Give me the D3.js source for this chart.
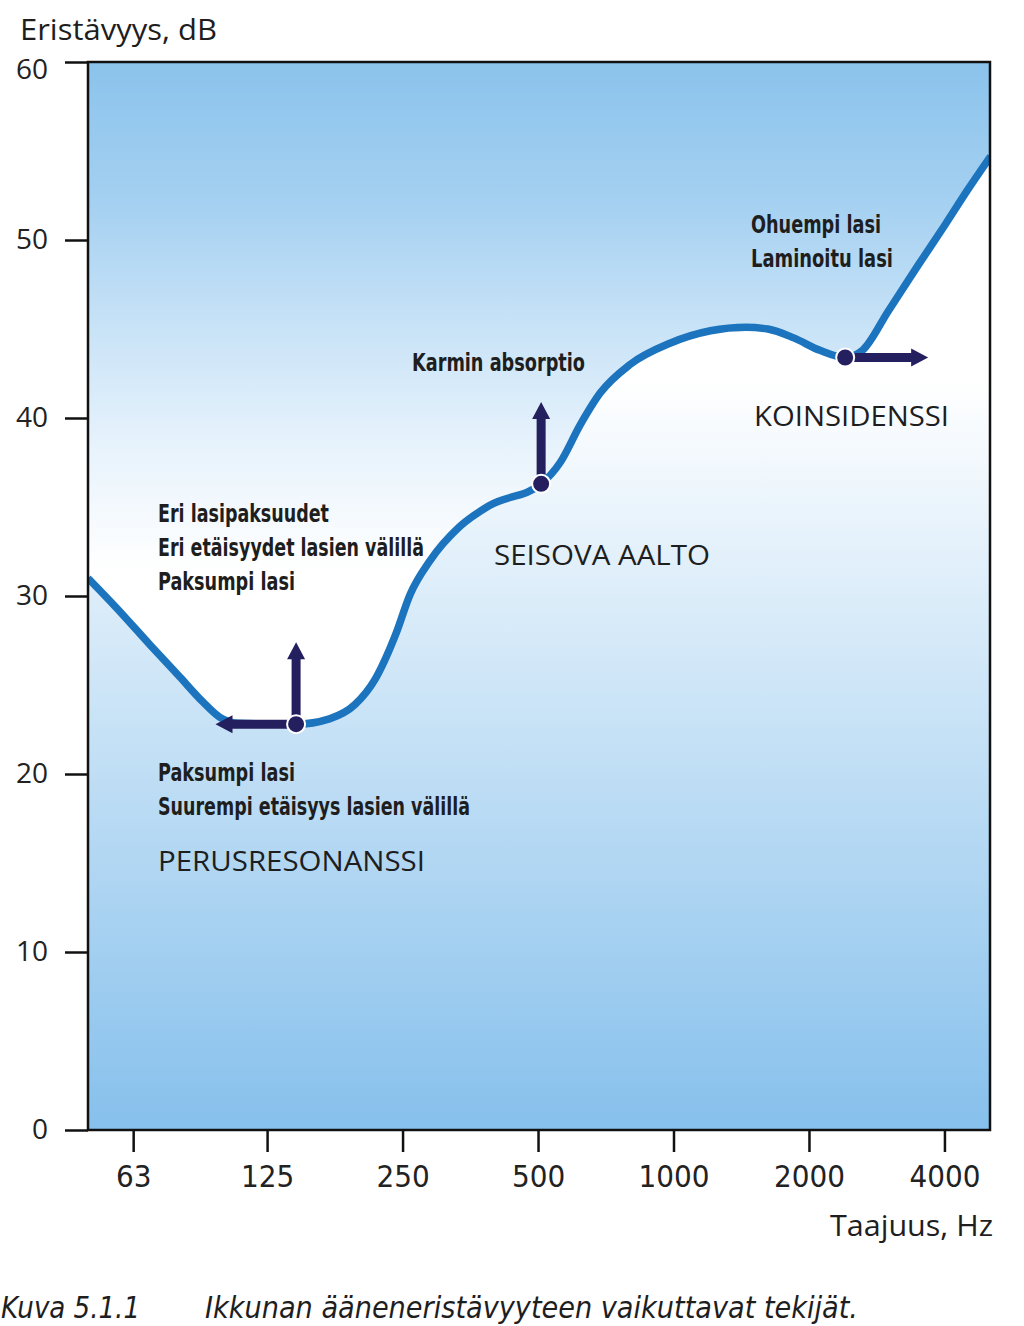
<!DOCTYPE html>
<html><head><meta charset="utf-8">
<script src="https://cdn.jsdelivr.net/npm/d3@7"></script>
<style>
html,body{margin:0;padding:0;background:#fff;}
svg{display:block;}
</style></head>
<body>
<svg id="chart" width="1024" height="1326"></svg>
<script>
// ---- data ----
const frequencies = [50, 58, 68.7, 80, 90, 98, 108, 145, 172, 196, 217, 241, 260, 288, 335, 391, 508, 560, 620, 687, 800, 982, 1208, 1450, 1620, 1850, 2116, 2407, 2629, 3000, 3500, 4000, 4500, 5065];
const insulationDb = [31.0, 29.3, 27.25, 25.45, 24.05, 23.2, 22.85, 22.8, 23.1, 23.9, 25.3, 27.8, 30.1, 32.0, 33.9, 35.1, 36.3, 37.5, 39.6, 41.4, 43.0, 44.2, 44.9, 45.1, 45.0, 44.5, 43.8, 43.4, 43.8, 46.0, 48.6, 50.8, 52.8, 54.7];
const xTickValues = [63, 125, 250, 500, 1000, 2000, 4000];
const yTickValues = [0, 10, 20, 30, 40, 50, 60];
const markerFreq = [145, 508, 2407];
const markerDb = [22.8, 36.3, 43.4];
// arrows: marker index, direction, target value (freq for horizontal, dB for vertical)
const arrowMarker = [0, 0, 1, 2];
const arrowDir = ["left", "up", "up", "right"];
const arrowTarget = [96, 27.4, 40.9, 3680];

// ---- layout ----
const plot = {l: 88, r: 990, t: 62, b: 1130};
const svg = d3.select("#chart");
const x = d3.scaleLog().domain([50, 5050]).range([plot.l, plot.r]);
const y = d3.scaleLinear().domain([0, 60]).range([plot.b, plot.t]);

const pts = frequencies.map((f, i) => ({f, db: insulationDb[i]}));

const defs = svg.append("defs");
function grad(id, stops) {
  const lg = defs.append("linearGradient").attr("id", id)
    .attr("gradientUnits", "userSpaceOnUse").attr("x1", 0).attr("x2", 0).attr("y1", 0).attr("y2", 1326);
  stops.forEach(s => lg.append("stop").attr("offset", s[0] / 1326).attr("stop-color", s[1]));
}
grad("gTop", [[62, "#8bc3ec"], [200, "#a4d0f1"], [330, "#c9e3f7"], [450, "#e8f3fc"], [570, "#ffffff"]]);
grad("gBot", [[380, "#ffffff"], [1130, "#86c0ec"]]);
defs.append("clipPath").attr("id", "clip").append("rect")
  .attr("x", plot.l).attr("y", plot.t).attr("width", plot.r - plot.l).attr("height", plot.b - plot.t);

const curve = d3.curveMonotoneX;
const g = svg.append("g").attr("clip-path", "url(#clip)");
g.append("path").datum(pts)
  .attr("d", d3.area().x(d => x(d.f)).y0(plot.t).y1(d => y(d.db)).curve(curve))
  .attr("fill", "url(#gTop)");
g.append("path").datum(pts)
  .attr("d", d3.area().x(d => x(d.f)).y0(plot.b).y1(d => y(d.db)).curve(curve))
  .attr("fill", "url(#gBot)");
g.append("path").datum(pts)
  .attr("d", d3.line().x(d => x(d.f)).y(d => y(d.db)).curve(curve))
  .attr("fill", "none").attr("stroke", "#1b74bd").attr("stroke-width", 7.5).attr("stroke-linejoin", "round");

// arrows
const navy = "#241f5f";
const sw = 4.5, hw = 9, hl = 17;
arrowDir.forEach((dir, i) => {
  const m = arrowMarker[i];
  const cx = x(markerFreq[m]), cy = y(markerDb[m]);
  let p;
  if (dir === "left") {
    const tx = x(arrowTarget[i]);
    p = [[cx, cy - sw], [tx + hl, cy - sw], [tx + hl, cy - hw], [tx, cy], [tx + hl, cy + hw], [tx + hl, cy + sw], [cx, cy + sw]];
  } else if (dir === "right") {
    const tx = x(arrowTarget[i]);
    p = [[cx, cy - sw], [tx - hl, cy - sw], [tx - hl, cy - hw], [tx, cy], [tx - hl, cy + hw], [tx - hl, cy + sw], [cx, cy + sw]];
  } else {
    const ty = y(arrowTarget[i]);
    p = [[cx - sw, cy], [cx - sw, ty + hl], [cx - hw, ty + hl], [cx, ty], [cx + hw, ty + hl], [cx + sw, ty + hl], [cx + sw, cy]];
  }
  svg.append("path").attr("d", "M" + p.map(q => q.join(",")).join("L") + "Z").attr("fill", navy);
});
markerFreq.forEach((f, i) => {
  svg.append("circle").attr("cx", x(f)).attr("cy", y(markerDb[i])).attr("r", 9)
    .attr("fill", navy).attr("stroke", "#fff").attr("stroke-width", 2);
});

// frame
svg.append("rect").attr("x", plot.l).attr("y", plot.t).attr("width", plot.r - plot.l).attr("height", plot.b - plot.t)
  .attr("fill", "none").attr("stroke", "#111").attr("stroke-width", 2.5);

// axes
const fontNum = "'Open Sans', 'Noto Sans', sans-serif";
const yAxis = svg.append("g").attr("transform", `translate(${plot.l},0)`)
  .call(d3.axisLeft(y).tickValues(yTickValues).tickSize(23).tickPadding(17).tickFormat(d3.format("d")));
yAxis.select(".domain").remove();
yAxis.selectAll("line").attr("stroke", "#111").attr("stroke-width", 2.5);
yAxis.selectAll("text").attr("font-family", fontNum).attr("font-size", 28).attr("fill", "#222")
  .attr("dy", d => d === 60 ? "0.6em" : "0.32em");

const xAxis = svg.append("g").attr("transform", `translate(0,${plot.b})`)
  .call(d3.axisBottom(x).tickValues(xTickValues).tickSize(22).tickPadding(13).tickFormat(d3.format("d")));
xAxis.select(".domain").remove();
xAxis.selectAll("line").attr("stroke", "#111").attr("stroke-width", 2.5);
xAxis.selectAll("text").attr("font-family", "'Liberation Sans Narrow', 'DejaVu Sans Condensed', sans-serif")
  .attr("font-size", 31).attr("fill", "#222");

// texts (layout)
const boldF = "'Liberation Sans Narrow', 'DejaVu Sans Condensed', sans-serif";
const regF = "'Open Sans', 'Noto Sans', sans-serif";
const texts = [
  {t: "Eristävyys, dB", x: 20, y: 40, w: 197, s: 30, f: regF, wt: 400},
  {t: "Taajuus, Hz", x: 830, y: 1236, w: 163, s: 30, f: regF, wt: 400},
  {t: "Eri lasipaksuudet", x: 158, y: 522, w: 171, s: 25, f: boldF, wt: 700},
  {t: "Eri etäisyydet lasien välillä", x: 158, y: 556, w: 266, s: 25, f: boldF, wt: 700},
  {t: "Paksumpi lasi", x: 158, y: 590, w: 137, s: 25, f: boldF, wt: 700},
  {t: "Paksumpi lasi", x: 158, y: 781, w: 137, s: 25, f: boldF, wt: 700},
  {t: "Suurempi etäisyys lasien välillä", x: 158, y: 815, w: 312, s: 25, f: boldF, wt: 700},
  {t: "PERUSRESONANSSI", x: 158, y: 871, w: 267, s: 28, f: regF, wt: 400},
  {t: "Karmin absorptio", x: 412, y: 371, w: 173, s: 25, f: boldF, wt: 700},
  {t: "SEISOVA AALTO", x: 494, y: 565, w: 216, s: 28, f: regF, wt: 400},
  {t: "Ohuempi lasi", x: 751, y: 233, w: 130, s: 25, f: boldF, wt: 700},
  {t: "Laminoitu lasi", x: 751, y: 267, w: 142, s: 25, f: boldF, wt: 700},
  {t: "KOINSIDENSSI", x: 754, y: 426, w: 195, s: 28, f: regF, wt: 400},
  {t: "Kuva 5.1.1", x: 1, y: 1318, w: 139, s: 30, f: boldF, wt: 400, it: true},
  {t: "Ikkunan ääneneristävyyteen vaikuttavat tekijät.", x: 205, y: 1318, w: 653, s: 30, f: boldF, wt: 400, it: true}
];
texts.forEach(d => {
  svg.append("text").attr("x", d.x).attr("y", d.y).text(d.t)
    .attr("font-family", d.f).attr("font-size", d.s).attr("font-weight", d.wt)
    .attr("font-style", d.it ? "italic" : "normal")
    .attr("fill", "#1e1e1e")
    .attr("textLength", d.w).attr("lengthAdjust", "spacingAndGlyphs");
});
</script>
</body></html>
